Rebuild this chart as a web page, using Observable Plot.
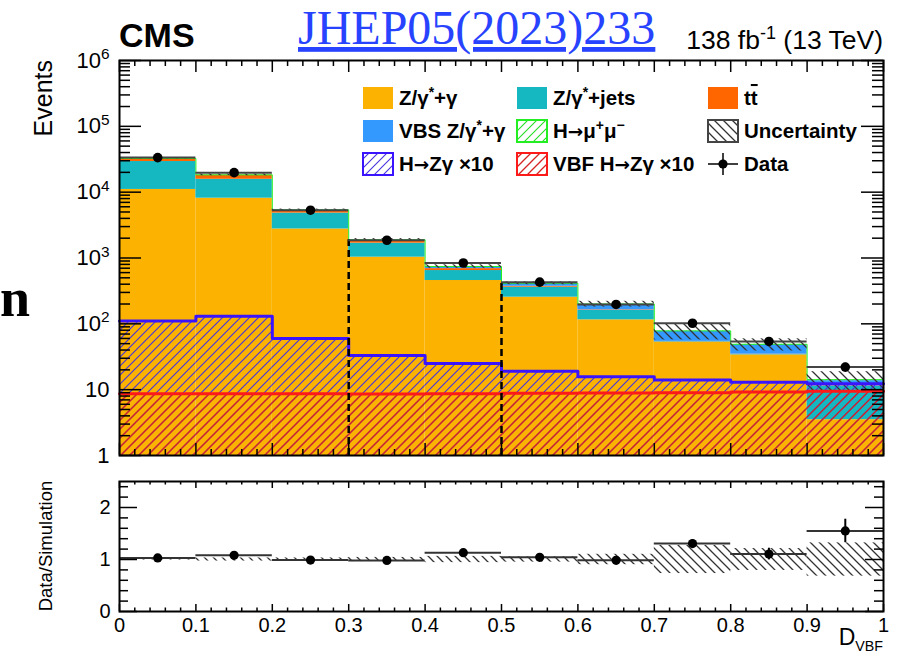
<!DOCTYPE html>
<html>
<head>
<meta charset="utf-8">
<script src="https://cdn.jsdelivr.net/npm/d3@7"></script>
<script src="https://cdn.jsdelivr.net/npm/@observablehq/plot@0.6"></script>
<style>
  html, body { margin: 0; padding: 0; background: #fff; }
  #chart { position: relative; width: 897px; height: 655px; overflow: hidden;
           font-family: "Liberation Sans", Arial, Helvetica, sans-serif; }
  #chart > svg { position: absolute; left: 0; }
</style>
</head>
<body>
<div id="chart"></div>
<script>
// ---- D_VBF distribution: bin edges and per-bin yields (events) ----
const binEdges = [0, 0.1, 0.2, 0.3, 0.4, 0.5, 0.6, 0.7, 0.8, 0.9, 1.0];
const zGamma     = [11000, 8100, 2760, 1030, 455, 254, 115, 52.6, 33.8, 3.5];
const zJets      = [18200, 7600, 2050, 650, 190, 106, 45, 1.0, 0.5, 7.7];
const ttbar      = [3200, 2500, 450, 150, 45, 12, 3, 0.5, 0.3, 0.2];
const vbsZGamma  = [100, 120, 110, 60, 50, 38, 35, 23, 13.5, 2.3];
const hMuMu      = [10, 8, 6, 4, 3, 3, 2, 1, 0.8, 0.5];
const hZGamma10  = [110, 130, 60, 33, 25, 19, 15.7, 14, 13, 12.3];
const vbfHZGamma10 = [8.7, 8.7, 8.7, 8.6, 8.7, 8.8, 8.9, 9.0, 9.2, 9.5];
const dataCounts = [33500, 19800, 5320, 1860, 840, 430, 197, 102, 54, 22];
const dataErrors = [183, 141, 73, 43, 29, 21, 14, 6, 5.5, 3.2];
const relUncertainty = [0.01, 0.03, 0.03, 0.04, 0.06, 0.05, 0.10, 0.27, 0.21, 0.32];
const categoryEdges = [0.3, 0.5];

// ---- axis ticks ----
const eventsTicks = [1, 10, 100, 1e3, 1e4, 1e5, 1e6];
const eventsMinorTicks = [0, 1, 2, 3, 4, 5].flatMap(k => [2, 3, 4, 5, 6, 7, 8, 9].map(m => m * 10 ** k));
const ratioTicks = [0, 1, 2];
const ratioMinorTicks = [0.2, 0.4, 0.6, 0.8, 1.2, 1.4, 1.6, 1.8, 2.2, 2.4];
const xTicks = [0, 0.1, 0.2, 0.3, 0.4, 0.5, 0.6, 0.7, 0.8, 0.9, 1];
const xTickLabels = ["0", "0.1", "0.2", "0.3", "0.4", "0.5", "0.6", "0.7", "0.8", "0.9", "1"];
const xMinorTicks = d3.range(0, 50).map(i => i / 50).filter((d, i) => i % 5 !== 0);

const colors = {
  zg: "#fbb200", zjets: "#15b7c1", tt: "#ff6600", vbs: "#3399ff",
  hmm: "#22ee22", hzg: "#3a14ff", vbf: "#ff1a1a"
};

const W = 897;
const ML = 119, MR = 14;
const plotW = W - ML - MR;
const fontFamily = "'Liberation Sans', Arial, Helvetica, sans-serif";

const chart = d3.select("#chart");

// ---- hatch patterns shared by the panels and the legend ----
const defsSvg = chart.append("svg").attr("width", 0).attr("height", 0).style("top", "0px");
const defs = defsSvg.append("defs");
function hatch(id, color, dir, s, w) {
  const p = defs.append("pattern").attr("id", id).attr("patternUnits", "userSpaceOnUse")
    .attr("width", s).attr("height", s);
  const d = dir === "/"
    ? `M0,${s} L${s},0 M${-s / 2},${s / 2} L${s / 2},${-s / 2} M${s / 2},${1.5 * s} L${1.5 * s},${s / 2}`
    : `M0,0 L${s},${s} M${-s / 2},${s / 2} L${s / 2},${1.5 * s} M${s / 2},${-s / 2} L${1.5 * s},${s / 2}`;
  p.append("path").attr("d", d).attr("stroke", color).attr("stroke-width", w).attr("fill", "none");
}
hatch("hatch-blue", "#4433dd", "/", 9, 1.1);
hatch("hatch-red", "#d42222", "/", 9, 1.3);
hatch("hatch-green", "#22dd22", "/", 9, 1.1);
hatch("hatch-unc", "#333", "\\", 9, 1.3);

// ---- derived per-bin quantities ----
const nBins = binEdges.length - 1;
const layers = [
  {values: zGamma, fill: colors.zg},
  {values: zJets, fill: colors.zjets},
  {values: ttbar, fill: colors.tt},
  {values: vbsZGamma, fill: colors.vbs},
  {values: hMuMu, fill: "url(#hatch-green)"}
];
const yFloor = 1;
const totals = new Array(nBins).fill(0);
const stackRects = [];
for (const L of layers) {
  for (let i = 0; i < nBins; i++) {
    const lo = totals[i], hi = lo + L.values[i];
    stackRects.push({x1: binEdges[i], x2: binEdges[i + 1], y1: Math.max(lo, yFloor), y2: hi, fill: L.fill});
    totals[i] = hi;
  }
}
const bins = d3.range(nBins).map(i => ({
  x1: binEdges[i], x2: binEdges[i + 1], c: (binEdges[i] + binEdges[i + 1]) / 2,
  total: totals[i], data: dataCounts[i], err: dataErrors[i], unc: relUncertainty[i],
  hzg: hZGamma10[i], vbf: vbfHZGamma10[i],
  ratio: dataCounts[i] / totals[i], ratioErr: dataErrors[i] / totals[i]
}));
const stepPoints = values => binEdges.map((e, i) => ({x: e, y: values[Math.min(i, nBins - 1)]}));
const categoryLines = categoryEdges.map(e => ({x: e, y2: totals[binEdges.indexOf(e)]}));

// inward tick helpers (left/right on y, bottom/top on x)
function yTicks(values, len) {
  return [
    Plot.tickY(values, {y: d => d, insetRight: plotW - len, stroke: "black", strokeWidth: 1.5}),
    Plot.tickY(values, {y: d => d, insetLeft: plotW - len, stroke: "black", strokeWidth: 1.5})
  ];
}
function xTickMarks(values, len, h) {
  return [
    Plot.tickX(values, {x: d => d, insetTop: h - len, stroke: "black", strokeWidth: 1.5}),
    Plot.tickX(values, {x: d => d, insetBottom: h - len, stroke: "black", strokeWidth: 1.5})
  ];
}

// ---- upper panel: stacked yields on a log scale ----
const topH = 470, topMT = 60, topMB = 15;
const topPlotH = topH - topMT - topMB;
const topPlot = Plot.plot({
  width: W, height: topH,
  marginLeft: ML, marginRight: MR, marginTop: topMT, marginBottom: topMB,
  x: {domain: [0, 1], axis: null},
  y: {type: "log", domain: [1, 1e6]},
  color: {type: "identity"},
  style: {fontFamily, background: "transparent", overflow: "visible"},
  marks: [
    Plot.rect(stackRects, {x1: "x1", x2: "x2", y1: "y1", y2: "y2", fill: "fill"}),
    Plot.line(stepPoints(totals), {x: "x", y: "y", curve: "step-after", stroke: colors.hmm, strokeWidth: 1}),
    Plot.rect(bins, {x1: "x1", x2: "x2", y1: d => d.total * (1 - d.unc), y2: d => d.total * (1 + d.unc), fill: "url(#hatch-unc)"}),
    Plot.rect(bins, {x1: "x1", x2: "x2", y1: () => yFloor, y2: "hzg", fill: "url(#hatch-blue)"}),
    Plot.rect(bins, {x1: "x1", x2: "x2", y1: () => yFloor, y2: "vbf", fill: "url(#hatch-red)"}),
    Plot.line(stepPoints(hZGamma10), {x: "x", y: "y", curve: "step-after", stroke: colors.hzg, strokeWidth: 3}),
    Plot.line(stepPoints(vbfHZGamma10), {x: "x", y: "y", curve: "step-after", stroke: colors.vbf, strokeWidth: 3}),
    Plot.ruleX(categoryLines, {x: "x", y1: () => yFloor, y2: "y2", stroke: "black", strokeWidth: 2.5, strokeDasharray: "7,4"}),
    Plot.ruleY(bins, {x1: "x1", x2: "x2", y: "data", stroke: "#444", strokeWidth: 2}),
    Plot.ruleX(bins, {x: "c", y1: d => d.data - d.err, y2: d => d.data + d.err, stroke: "black", strokeWidth: 2}),
    Plot.dot(bins, {x: "c", y: "data", r: 4.8, fill: "black"}),
    ...yTicks(eventsTicks, 22),
    ...yTicks(eventsMinorTicks, 11),
    ...xTickMarks(xTicks, 12, topPlotH),
    ...xTickMarks(xMinorTicks, 6, topPlotH),
    Plot.frame({stroke: "black", strokeWidth: 2}),
    Plot.axisY({ticks: eventsTicks, tickSize: 0, tickPadding: 10, fontSize: 22, label: null,
      tickFormat: d => d < 100 ? String(d) : "10^" + Math.round(Math.log10(d))})
  ]
});
d3.select(topPlot).style("top", "0px");
chart.node().appendChild(topPlot);

// power-of-ten labels with raised exponents
d3.select(topPlot).selectAll('g[aria-label="y-axis tick label"] text').each(function () {
  const t = d3.select(this);
  const s = t.text();
  if (!s.includes("^")) return;
  const [base, exp] = s.split("^");
  t.text(null);
  t.append("tspan").text(base);
  t.append("tspan").attr("dy", "-0.55em").attr("font-size", "0.7em").text(exp);
});

// ---- lower panel: data / simulation ----
const botH = 185, botMT = 11, botMB = 44;
const botPlotH = botH - botMT - botMB;
const ratioPlot = Plot.plot({
  width: W, height: botH,
  marginLeft: ML, marginRight: MR, marginTop: botMT, marginBottom: botMB,
  x: {domain: [0, 1]},
  y: {domain: [0, 2.5]},
  style: {fontFamily, background: "transparent", overflow: "visible"},
  marks: [
    Plot.rect(bins, {x1: "x1", x2: "x2", y1: d => 1 - d.unc, y2: d => 1 + d.unc, fill: "url(#hatch-unc)"}),
    Plot.ruleY(bins, {x1: "x1", x2: "x2", y: "ratio", stroke: "#333", strokeWidth: 2}),
    Plot.ruleX(bins, {x: "c", y1: d => d.ratio - d.ratioErr, y2: d => d.ratio + d.ratioErr, stroke: "black", strokeWidth: 2}),
    Plot.dot(bins, {x: "c", y: "ratio", r: 4.6, fill: "black"}),
    ...yTicks(ratioTicks, 18),
    ...yTicks(ratioMinorTicks, 9),
    ...xTickMarks(xTicks, 7, botPlotH),
    ...xTickMarks(xMinorTicks, 3.5, botPlotH),
    Plot.frame({stroke: "black", strokeWidth: 2}),
    Plot.axisY({ticks: ratioTicks, tickSize: 0, tickPadding: 9, fontSize: 20, label: null, tickFormat: d => String(d)}),
    Plot.axisX({ticks: xTicks, tickSize: 0, tickPadding: 6, fontSize: 20, label: null,
      tickFormat: d => xTickLabels[xTicks.indexOf(d)]})
  ]
});
d3.select(ratioPlot).style("top", "470px");
chart.node().appendChild(ratioPlot);

// ---- titles, axis titles and legend ----
const ov = chart.append("svg").attr("width", W).attr("height", 655)
  .style("top", "0px").style("pointer-events", "none").style("font-family", fontFamily);

function richText(sel, parts, size) {
  for (const p of parts) {
    const ts = sel.append("tspan").text(p.t);
    if (p.sup) ts.attr("dy", -size * 0.38).attr("font-size", size * 0.68);
    if (p.sub) ts.attr("dy", size * 0.25).attr("font-size", size * 0.62);
    if (p.back) ts.attr("dy", p.back);
    if (p.over) ts.style("text-decoration", "overline");
    if (p.arrow) ts.attr("font-family", "'DejaVu Sans', sans-serif").attr("font-size", size * 0.9);
  }
  return sel;
}

ov.append("text").attr("x", 0).attr("y", 316).attr("font-family", "'Liberation Serif', 'Times New Roman', serif")
  .attr("font-weight", "bold").attr("font-size", 54).text("n");

ov.append("text").attr("x", 119).attr("y", 47).attr("font-weight", "bold").attr("font-size", 34).text("CMS");

ov.append("text").attr("x", 298).attr("y", 44).attr("font-family", "'Liberation Serif', 'Times New Roman', serif")
  .attr("font-size", 48).attr("fill", "#2743ff").style("text-decoration", "underline").text("JHEP05(2023)233");

richText(ov.append("text").attr("x", 883).attr("y", 49).attr("text-anchor", "end").attr("font-size", 26.5),
  [{t: "138 fb"}, {t: "-1", sup: true}, {t: " (13 TeV)", back: 26.5 * 0.38}], 26.5);

ov.append("text").attr("transform", "translate(52,60) rotate(-90)").attr("text-anchor", "end")
  .attr("font-size", 25).text("Events");
ov.append("text").attr("transform", "translate(52,546) rotate(-90)").attr("text-anchor", "middle")
  .attr("font-size", 18.5).text("Data/Simulation");
richText(ov.append("text").attr("x", 883).attr("y", 645).attr("text-anchor", "end").attr("font-size", 23),
  [{t: "D"}, {t: "VBF", sub: true}], 23);

// legend entries
const legendRows = [98, 131, 164];
const legendCols = [363, 517, 708];
const boxW = 30, boxH = 22, lfs = 20.5;
const legendEntries = [
  {col: 0, row: 0, fill: colors.zg, label: [{t: "Z/γ"}, {t: "*", sup: true}, {t: "+γ", back: lfs * 0.38}]},
  {col: 1, row: 0, fill: colors.zjets, label: [{t: "Z/γ"}, {t: "*", sup: true}, {t: "+jets", back: lfs * 0.38}]},
  {col: 2, row: 0, fill: colors.tt, label: [{t: "t"}, {t: "t", over: true}]},
  {col: 0, row: 1, fill: colors.vbs, label: [{t: "VBS Z/γ"}, {t: "*", sup: true}, {t: "+γ", back: lfs * 0.38}]},
  {col: 1, row: 1, fill: "url(#hatch-green)", stroke: "#22ee22", label: [{t: "H"}, {t: "→", arrow: true}, {t: "μ"}, {t: "+", sup: true}, {t: "μ", back: lfs * 0.38}, {t: "−", sup: true}]},
  {col: 2, row: 1, fill: "url(#hatch-unc)", stroke: "#444", label: [{t: "Uncertainty"}]},
  {col: 0, row: 2, fill: "url(#hatch-blue)", stroke: colors.hzg, label: [{t: "H"}, {t: "→", arrow: true}, {t: "Zγ ×10"}]},
  {col: 1, row: 2, fill: "url(#hatch-red)", stroke: colors.vbf, label: [{t: "VBF H"}, {t: "→", arrow: true}, {t: "Zγ ×10"}]},
  {col: 2, row: 2, marker: true, label: [{t: "Data"}]}
];
for (const e of legendEntries) {
  const x = legendCols[e.col], cy = legendRows[e.row];
  if (e.marker) {
    ov.append("line").attr("x1", x).attr("x2", x + boxW).attr("y1", cy).attr("y2", cy).attr("stroke", "black").attr("stroke-width", 1.5);
    ov.append("line").attr("x1", x + boxW / 2).attr("x2", x + boxW / 2).attr("y1", cy - boxH / 2).attr("y2", cy + boxH / 2).attr("stroke", "black").attr("stroke-width", 1.5);
    ov.append("circle").attr("cx", x + boxW / 2).attr("cy", cy).attr("r", 4.6).attr("fill", "black");
  } else {
    ov.append("rect").attr("x", x).attr("y", cy - boxH / 2).attr("width", boxW).attr("height", boxH)
      .attr("fill", e.fill).attr("stroke", e.stroke || "none").attr("stroke-width", e.stroke ? 2 : 0);
  }
  richText(ov.append("text").attr("x", x + boxW + 6).attr("y", cy + 7).attr("font-weight", "bold").attr("font-size", lfs),
    e.label, lfs);
}
</script>
</body>
</html>
